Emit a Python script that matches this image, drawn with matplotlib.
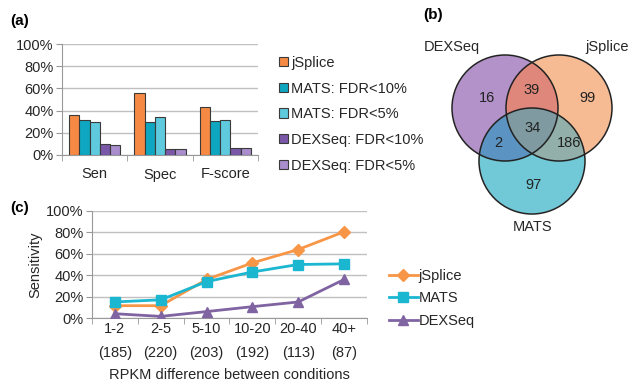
import numpy as np
import matplotlib
matplotlib.use("Agg")
import matplotlib.pyplot as plt
from matplotlib.patches import Circle

plt.rcParams['font.family'] = ['Liberation Sans', 'DejaVu Sans']

# ---- data panel (a)
metrics = ["Sen", "Spec", "F-score"]
bar_series = ["jSplice", "MATS: FDR<10%", "MATS: FDR<5%", "DEXSeq: FDR<10%", "DEXSeq: FDR<5%"]
bar_values = {
    "jSplice":         [0.357, 0.560, 0.435],
    "MATS: FDR<10%":   [0.315, 0.300, 0.306],
    "MATS: FDR<5%":    [0.294, 0.340, 0.312],
    "DEXSeq: FDR<10%": [0.096, 0.054, 0.066],
    "DEXSeq: FDR<5%":  [0.090, 0.054, 0.066],
}
bar_colors = ["#f68a45", "#0ea6c0", "#5fc9de", "#7a57a8", "#a98dcc"]

# ---- data panel (b)
venn_sets = ["DEXSeq", "jSplice", "MATS"]
venn_counts = {"100": 16, "010": 99, "001": 97, "110": 39, "101": 2, "011": 186, "111": 34}

# ---- data panel (c)
rpkm_bins = ["1-2\n(185)", "2-5\n(220)", "5-10\n(203)", "10-20\n(192)", "20-40\n(113)", "40+\n(87)"]
sens_jsplice = [0.115, 0.115, 0.36, 0.515, 0.64, 0.806]
sens_mats = [0.15, 0.17, 0.34, 0.43, 0.50, 0.506]
sens_dexseq = [0.04, 0.015, 0.06, 0.106, 0.15, 0.36]

W, H = 632, 383
fig = plt.figure(figsize=(W / 100, H / 100), dpi=100)

def fr(x0, y0, x1, y1):
    return [x0 / W, 1 - y1 / H, (x1 - x0) / W, (y1 - y0) / H]

grid_c = "#c0c0c0"
txt_c = "#262626"
fs = 10.5

# ================= panel (a)
axa = fig.add_axes(fr(62, 44, 258, 155))
x = np.arange(len(metrics))
bw = 0.158
handles = []
for i, (s, c) in enumerate(zip(bar_series, bar_colors)):
    off = (i - 2) * bw
    h = axa.bar(x + off, bar_values[s], width=bw, color=c, edgecolor="#3a3a3a", linewidth=0.8, label=s, zorder=3)
    handles.append(h)
axa.set_xlim(-0.5, 2.5)
axa.set_ylim(0, 1.0)
axa.set_yticks(np.arange(0, 1.01, 0.2))
axa.set_yticklabels([f"{int(round(v*100))}%" for v in np.arange(0, 1.01, 0.2)])
axa.set_xticks(x)
axa.set_xticklabels(metrics)
axa.set_xticks([-0.5, 0.5, 1.5, 2.5], minor=True)
axa.tick_params(axis='x', which='major', length=0, pad=9, labelsize=fs, colors=txt_c)
axa.tick_params(axis='x', which='minor', length=4, direction='out', color="#999999")
axa.tick_params(axis='y', length=4, direction='out', color="#999999", labelsize=fs, labelcolor=txt_c, pad=2)
axa.yaxis.grid(True, color=grid_c, linewidth=1, zorder=0)
for sp in ["top", "right"]:
    axa.spines[sp].set_visible(False)
axa.spines["left"].set_color("#999999")
axa.spines["bottom"].set_color("#999999")
fig.legend(handles=handles, labels=bar_series, loc="upper left", bbox_to_anchor=(273 / W, 1 - 50 / H),
           frameon=False, fontsize=fs, handlelength=0.6, handleheight=0.6, handletextpad=0.25,
           labelspacing=0.8, borderaxespad=0, labelcolor=txt_c)

fig.text(10 / W, 1 - 21 / H, "(a)", fontsize=11, fontweight="bold", va="center", ha="left")

# ================= panel (b)
axb = fig.add_axes([0, 0, 1, 1])
axb.set_xlim(0, W)
axb.set_ylim(H, 0)
axb.axis("off")
axb.patch.set_alpha(0)
centers = {"DEXSeq": (505, 108), "jSplice": (559, 108), "MATS": (532, 161)}
r = 53
region_colors = {"100": "#b392c9", "010": "#f8bb94", "001": "#72c9d9",
                 "110": "#e0877b", "101": "#5b94c2", "011": "#92b1a9", "111": "#7f9aa0"}
gx = np.linspace(440, 625, 740)
gy = np.linspace(45, 225, 720)
GX, GY = np.meshgrid(gx, gy)
masks = [((GX - centers[s][0]) ** 2 + (GY - centers[s][1]) ** 2) <= r ** 2 for s in venn_sets]
img = np.ones(GX.shape + (4,))
img[..., 3] = 0
for key, col in region_colors.items():
    m = np.ones(GX.shape, bool)
    for k, mk in zip(key, masks):
        m &= mk if k == "1" else ~mk
    rgb = matplotlib.colors.to_rgba(col)
    img[m] = rgb
axb.imshow(img, extent=(gx[0], gx[-1], gy[-1], gy[0]), origin="upper", interpolation="bilinear", zorder=1)
for s in venn_sets:
    axb.add_patch(Circle(centers[s], r, fill=False, edgecolor="#222222", linewidth=1.1, zorder=2))
label_pos = {"100": (487, 98), "010": (587, 98), "001": (533, 185), "110": (532, 90),
             "101": (498, 143), "011": (569, 143), "111": (533, 128)}
for key, (px, py) in label_pos.items():
    axb.text(px, py, str(venn_counts[key]), ha="center", va="center", fontsize=fs, color="#222222", zorder=3)
axb.text(452, 47, "DEXSeq", ha="center", va="center", fontsize=fs, color=txt_c)
axb.text(607, 47, "jSplice", ha="center", va="center", fontsize=fs, color=txt_c)
axb.text(533, 227, "MATS", ha="center", va="center", fontsize=fs, color=txt_c)
axb.text(423, 15, "(b)", ha="left", va="center", fontsize=11, fontweight="bold")

# ================= panel (c)
axc = fig.add_axes(fr(92, 211, 367, 318))
xc = np.arange(len(rpkm_bins))
l1, = axc.plot(xc, sens_jsplice, color="#f79646", marker="D", markersize=6, linewidth=2, label="jSplice", zorder=3)
l2, = axc.plot(xc, sens_mats, color="#1bb6cf", marker="s", markersize=7, linewidth=2, label="MATS", zorder=3)
l3, = axc.plot(xc, sens_dexseq, color="#8064a2", marker="^", markersize=7, linewidth=2, label="DEXSeq", zorder=3)
axc.set_xlim(-0.5, len(rpkm_bins) - 0.5)
axc.set_ylim(0, 1.0)
axc.set_yticks(np.arange(0, 1.01, 0.2))
axc.set_yticklabels([f"{int(round(v*100))}%" for v in np.arange(0, 1.01, 0.2)])
axc.set_xticks(xc)
axc.set_xticklabels(rpkm_bins, linespacing=1.85)
axc.set_xticks(np.arange(-0.5, len(rpkm_bins)), minor=True)
axc.tick_params(axis='x', which='major', length=0, pad=3, labelsize=fs, colors=txt_c)
axc.tick_params(axis='x', which='minor', length=4, direction='out', color="#999999")
axc.tick_params(axis='y', length=4, direction='out', color="#999999", labelsize=fs, labelcolor=txt_c, pad=2)
axc.yaxis.grid(True, color=grid_c, linewidth=1, zorder=0)
for sp in ["top", "right"]:
    axc.spines[sp].set_visible(False)
axc.spines["left"].set_color("#999999")
axc.spines["bottom"].set_color("#999999")
axc.set_ylabel("Sensitivity", fontsize=fs, color=txt_c, labelpad=3)
axc.set_xlabel("RPKM difference between conditions", fontsize=fs, color=txt_c, labelpad=6)
fig.legend(handles=[l1, l2, l3], loc="upper left", bbox_to_anchor=(383 / W, 1 - 263 / H),
           frameon=False, fontsize=fs, handlelength=2.0, handletextpad=0.05,
           labelspacing=0.58, borderaxespad=0, labelcolor=txt_c, markerscale=1.0)
fig.text(10 / W, 1 - 208 / H, "(c)", fontsize=11, fontweight="bold", va="center", ha="left")

fig.savefig("out.png", dpi=100)
